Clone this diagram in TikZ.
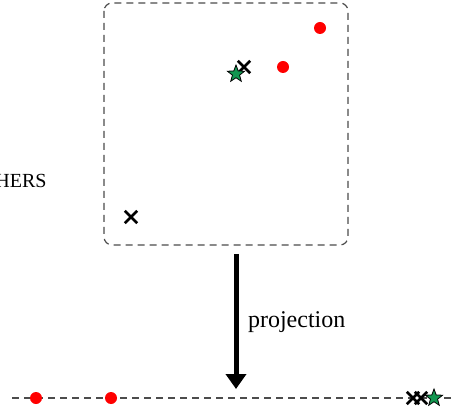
\documentclass[tikz,border=0pt]{standalone}
\usepackage{fontspec}
\setmainfont{Liberation Serif}
\usetikzlibrary{shapes.geometric,shapes.misc,arrows.meta}
\definecolor{stargreen}{RGB}{18,150,80}

\begin{document}
\begin{tikzpicture}[x=0.5pt,y=-0.5pt,
  pt/.style={circle,fill=red,inner sep=0pt,minimum size=6pt},
  xmark/.style={cross out,draw=black,line width=1.4pt,inner sep=0pt,minimum size=4.8pt},
  smark/.style={star,star points=5,star point ratio=2.4,draw=black,line width=0.4pt,fill=stargreen,inner sep=0pt,minimum size=9pt},
  dash line/.style={dash pattern=on 3.5pt off 2.5pt,draw=black!70,line width=0.6pt}]
\useasboundingbox (0,0) rectangle (454,416);

% the region
\draw[dash line,rounded corners=4pt] (104,3) rectangle (348,245);
\node[font=\normalsize,anchor=base east,inner sep=0pt] (others) at (47,188) {OTHERS};

\node[pt] (p1) at (320,28) {};
\node[pt] (p2) at (283,67) {};
\node[xmark] (x1) at (244,67) {};
\node[xmark] (x2) at (131,217) {};
\node[smark] (s1) at (236,74) {};

% projection arrow
\coordinate (top) at (236,254);
\coordinate (bot) at (236,389);
\draw[line width=2.5pt,-{Triangle[width=10pt,length=7.5pt]}] (top) -- (bot);
\node[anchor=west,font=\large] (proj) at (241,322) {projection};

% the line
\coordinate (left) at (12,398);
\coordinate (right) at (454,398);
\draw[dash line] (left) -- (right);
\node[pt] (q1) at (36,398) {};
\node[pt] (q2) at (111,398) {};
\node[xmark] (y1) at (413,398) {};
\node[xmark] (y2) at (421,398) {};
\node[smark] (s2) at (434,398) {};
\end{tikzpicture}
\end{document}
